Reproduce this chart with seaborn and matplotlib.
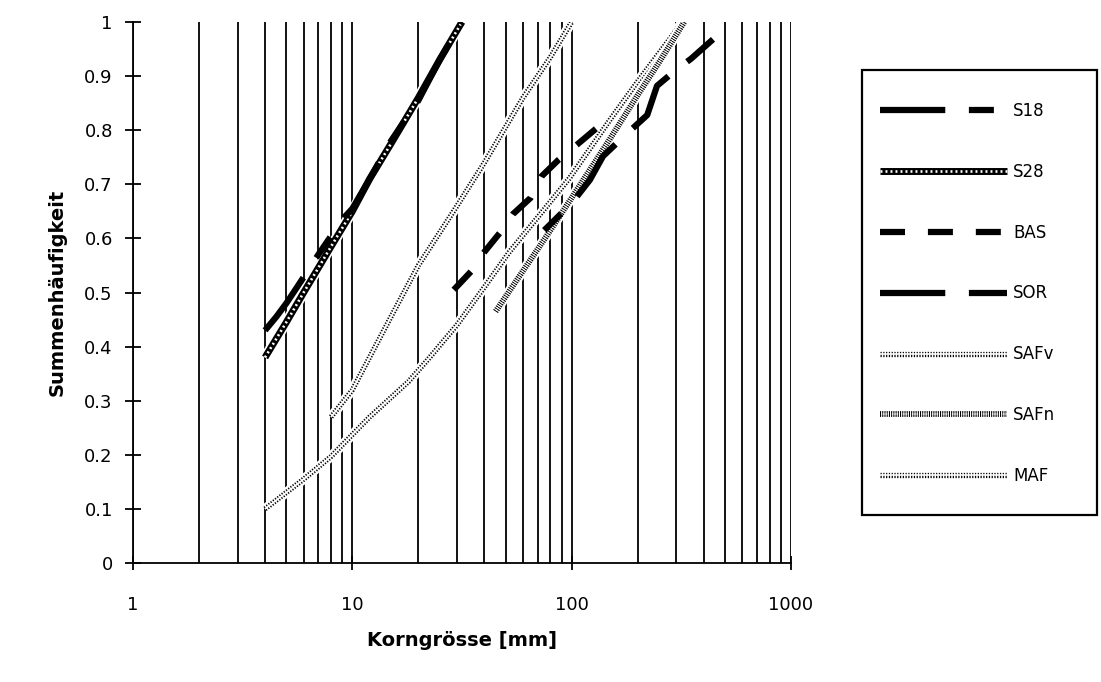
import matplotlib
matplotlib.use("Agg")
import matplotlib.pyplot as plt
import seaborn as sns
from matplotlib.ticker import FixedLocator, FixedFormatter, NullFormatter
from matplotlib.patches import Rectangle

sns.set_theme(style="white")
plt.rcParams['font.family'] = ['DejaVu Sans']
plt.rcParams['lines.scale_dashes'] = False

# ---------------- data ----------------
s18_x = [4, 4.5, 5, 5.6, 7, 9, 10, 12, 15, 20, 25, 31.6]
s18_y = [0.43, 0.455, 0.48, 0.51, 0.57, 0.635, 0.655, 0.71, 0.78, 0.855, 0.93, 1.0]

s28_x = [4, 5, 6, 8, 10, 12, 15, 20, 25, 31.6]
s28_y = [0.38, 0.445, 0.50, 0.585, 0.65, 0.71, 0.775, 0.86, 0.93, 1.0]

bas_x = [29, 35, 40, 47, 54, 65, 73, 87, 107, 131]
bas_y = [0.505, 0.54, 0.575, 0.61, 0.645, 0.675, 0.715, 0.745, 0.775, 0.805]

sor_x = [75, 100, 121, 139, 180, 221, 245, 300, 350, 441]
sor_y = [0.615, 0.665, 0.708, 0.752, 0.795, 0.828, 0.882, 0.912, 0.932, 0.968]

safv_x = [8, 10, 15, 20, 30, 40, 60, 80, 100]
safv_y = [0.27, 0.32, 0.455, 0.55, 0.66, 0.74, 0.86, 0.935, 1.0]

safn_x = [45, 60, 80, 100, 150, 200, 250, 326]
safn_y = [0.465, 0.54, 0.615, 0.675, 0.785, 0.865, 0.925, 1.0]

maf_x = [4, 6, 8, 12, 18, 22, 30, 40, 52, 72, 98, 150, 200, 320]
maf_y = [0.10, 0.155, 0.197, 0.27, 0.335, 0.375, 0.44, 0.51, 0.575, 0.645, 0.712, 0.82, 0.89, 1.0]

x_ticks = [1, 10, 100, 1000]
x_tick_labels = ["1", "10", "100", "1000"]
y_ticks = [0, 0.1, 0.2, 0.3, 0.4, 0.5, 0.6, 0.7, 0.8, 0.9, 1.0]
y_tick_labels = ["0", "0.1", "0.2", "0.3", "0.4", "0.5", "0.6", "0.7", "0.8", "0.9", "1"]
series_names = ["S18", "S28", "BAS", "SOR", "SAFv", "SAFn", "MAF"]

# ---------------- figure ----------------
W, H = 1101, 682
fig = plt.figure(figsize=(W / 100, H / 100), dpi=100)
fig.patch.set_facecolor("white")
L, R, T, B = 133, 791, 22, 563
ax = fig.add_axes([L / W, 1 - B / H, (R - L) / W, (B - T) / H])
ax.set_facecolor("white")
ax.set_xscale("log")


def draw(x, y, z, **kw):
    sns.lineplot(x=x, y=y, ax=ax, sort=False, estimator=None, legend=False, **kw)
    ln = ax.lines[-1]
    ln.set_zorder(z)
    return ln


def pattern_line(x, y, z, kind):
    parts = []
    if kind == "s28":
        parts.append(draw(x, y, z, color="white", lw=7.5, solid_capstyle="butt"))
        parts.append(draw(x, y, z + 0.1, color="black", lw=5.0, solid_capstyle="butt"))
        parts.append(draw(x, y, z + 0.2, color="white", lw=1.9, linestyle=(0, (1.4, 2.2)), dash_capstyle="butt"))
    elif kind == "safn":
        parts.append(draw(x, y, z, color="white", lw=7, solid_capstyle="butt"))
        parts.append(draw(x, y, z + 0.1, color="black", lw=4.2, linestyle=(0, (0.8, 0.8)), dash_capstyle="butt"))
        parts.append(draw(x, y, z + 0.2, color="white", lw=1.2, linestyle=(0.8, (0.8, 0.8)), dash_capstyle="butt"))
    else:  # light chain pattern (SAFv, MAF)
        parts.append(draw(x, y, z, color="white", lw=7, solid_capstyle="butt"))
        parts.append(draw(x, y, z + 0.1, color="black", lw=3.8, linestyle=(0, (0.9, 1.1)), dash_capstyle="butt"))
        parts.append(draw(x, y, z + 0.2, color="white", lw=1.2, solid_capstyle="butt"))
    return tuple(parts)


def dash_line(x, y, z, dashes, lw=4.5, offset=0):
    return draw(x, y, z, color="black", lw=lw, linestyle=(offset, dashes), dash_capstyle="butt")


h_safv = pattern_line(safv_x, safv_y, 3, "light")
h_maf = pattern_line(maf_x, maf_y, 3.5, "light")
h_safn = pattern_line(safn_x, safn_y, 4, "safn")
h_s28 = pattern_line(s28_x, s28_y, 5, "s28")
h_bas = dash_line(bas_x, bas_y, 6, (18, 16.5))
h_sor = dash_line(sor_x, sor_y, 6.5, (47, 17), offset=30)
h_s18 = dash_line(s18_x, s18_y, 7, (47, 17, 18, 17))

# ---------------- axes styling ----------------
ax.set_xlim(1, 1000)
ax.set_ylim(0, 1)
ax.xaxis.set_major_locator(FixedLocator(x_ticks))
ax.xaxis.set_major_formatter(FixedFormatter(x_tick_labels))
minor = [m * 10 ** d for d in range(3) for m in range(2, 10)]
ax.xaxis.set_minor_locator(FixedLocator(minor))
ax.xaxis.set_minor_formatter(NullFormatter())
ax.yaxis.set_major_locator(FixedLocator(y_ticks))
ax.yaxis.set_major_formatter(FixedFormatter(y_tick_labels))

ax.grid(False)
ax.grid(True, which="both", axis="x", color="black", lw=1.3)
ax.set_axisbelow(True)

for side in ["top", "right"]:
    ax.spines[side].set_visible(False)
for side in ["left", "bottom"]:
    ax.spines[side].set_color("black")
    ax.spines[side].set_linewidth(1.3)
    ax.spines[side].set_zorder(10)

ax.tick_params(axis="y", which="major", direction="inout", length=11, width=1.3,
               color="black", pad=9, labelsize=13, labelcolor="black", left=True)
ax.tick_params(axis="x", which="major", direction="inout", length=10, width=1.3,
               color="black", pad=19, labelsize=13, labelcolor="black", bottom=True)
ax.tick_params(axis="x", which="minor", length=0)

ax.set_xlabel("Korngrösse [mm]", fontsize=14, fontweight="bold", color="black", va="center")
ax.xaxis.set_label_coords(0.5, (B - 641) / (B - T))
ax.set_ylabel("Summenhäufigkeit", fontsize=14, fontweight="bold", color="black", va="center")
ax.yaxis.set_label_coords((57 - L) / (R - L), 0.5)

# ---------------- legend ----------------
box = Rectangle((862 / W, 1 - 515 / H), (1097 - 862) / W, (515 - 70) / H,
                transform=fig.transFigure, facecolor="white", edgecolor="black",
                lw=1.6, zorder=0)
fig.patches.append(box)

handles = [h_s18, h_s28, h_bas, h_sor, h_safv, h_safn, h_maf]
leg = fig.legend(handles, series_names, loc="upper left",
                 bbox_to_anchor=(880 / W, 1 - 102 / H), bbox_transform=fig.transFigure,
                 frameon=False, borderpad=0, borderaxespad=0, handlelength=7.6,
                 handletextpad=0.4, labelspacing=2.57, fontsize=12)
for t in leg.get_texts():
    t.set_color("black")
# legend sample of SOR starts with a full long dash, as in the original
leg.legend_handles[3].set_linestyle((0, (47, 17)))

fig.savefig("out.png", dpi=100, facecolor="white")
